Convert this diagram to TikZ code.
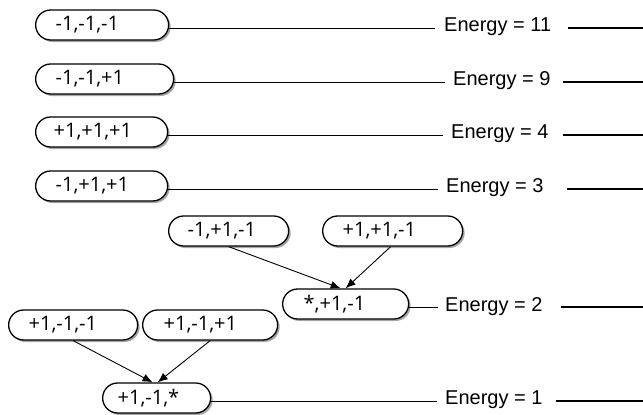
\documentclass[tikz,border=0pt]{standalone}
\usepackage{fontspec}
\setmainfont{Liberation Sans}
\newfontfamily\statefont{Open Sans}
\usetikzlibrary{shadows,arrows.meta,calc}

\tikzset{
  pill/.style={draw=black, line width=1.3pt, fill=white, rectangle,
    rounded corners=15pt, minimum height=30pt, anchor=west,
    align=left, inner ysep=0pt, font=\statefont\fontsize{20}{22}\selectfont,
    drop shadow={shadow xshift=2pt, shadow yshift=-2pt, fill=black, opacity=0.35}},
  energy/.style={anchor=base west, inner sep=0pt, font=\fontsize{20}{22}\selectfont},
  link/.style={draw=black, line width=0.8pt},
  level/.style={draw=black, line width=1.3pt},
  flow/.style={draw=black, line width=0.9pt, -{Latex[length=10pt,width=8pt]}},
}

\begin{document}
\begin{tikzpicture}[x=1pt, y=-1pt]
  \useasboundingbox (0,0) rectangle (643,415);

  % state nodes: left edge, vertical centre, width via text width + padding
  \node[pill, inner xsep=20pt, text width=93pt] (s1) at (35,25) {-1,-1,-1};
  \node[pill, inner xsep=20pt, text width=98pt] (s2) at (35,79) {-1,-1,+1};
  \node[pill, inner xsep=18pt, text width=96pt] (s3) at (35,132) {+1,+1,+1};
  \node[pill, inner xsep=20pt, text width=92pt] (s4) at (35,186) {-1,+1,+1};
  \node[pill, inner xsep=19pt, text width=82pt] (s5) at (168,231) {-1,+1,-1};
  \node[pill, inner xsep=20pt, text width=100pt] (s6) at (322,231) {+1,+1,-1};
  \node[pill, inner xsep=21pt, text width=84pt] (s7) at (282,304) {*,+1,-1};
  \node[pill, inner xsep=20pt, text width=89pt] (s8) at (8,325) {+1,-1,-1};
  \node[pill, inner xsep=21pt, text width=93pt] (s9) at (142,325) {+1,-1,+1};
  \node[pill, inner xsep=15pt, text width=78pt] (s10) at (102,398) {+1,-1,*};

  % energy labels
  \node[energy] (e11) at (444,31) {Energy = 11};
  \node[energy] (e9)  at (453,85) {Energy = 9};
  \node[energy] (e4)  at (451,138) {Energy = 4};
  \node[energy] (e3)  at (446,192) {Energy = 3};
  \node[energy] (e2)  at (445,311) {Energy = 2};
  \node[energy] (e1)  at (445,404) {Energy = 1};

  % ends of the connector segments on each level
  \coordinate (a11) at (435,28);  \coordinate (b11) at (568,28);  \coordinate (c11) at (643,28);
  \coordinate (a9)  at (445,82);  \coordinate (b9)  at (563,82);  \coordinate (c9)  at (643,82);
  \coordinate (a4)  at (443,135); \coordinate (b4)  at (563,135); \coordinate (c4)  at (643,135);
  \coordinate (a3)  at (438,189); \coordinate (b3)  at (567,189); \coordinate (c3)  at (643,189);
  \coordinate (a2)  at (438,307); \coordinate (b2)  at (561,307); \coordinate (c2)  at (643,307);
  \coordinate (a1)  at (437,401); \coordinate (b1)  at (556,401); \coordinate (c1)  at (643,401);

  % connectors from states to their energy level
  \draw[link] (s1.east |- a11) -- (a11);
  \draw[link] (s2.east |- a9) -- (a9);
  \draw[link] (s3.east |- a4) -- (a4);
  \draw[link] (s4.east |- a3) -- (a3);
  \draw[link] (s7.east |- a2) -- (a2);
  \draw[link] (s10.east |- a1) -- (a1);

  % level marks at the right
  \draw[level] (b11) -- (c11);
  \draw[level] (b9) -- (c9);
  \draw[level] (b4) -- (c4);
  \draw[level] (b3) -- (c3);
  \draw[level] (b2) -- (c2);
  \draw[level] (b1) -- (c1);

  % merges
  \draw[flow] (s5.south) -- ($(s7.north)+(-5,0)$);
  \draw[flow] ($(s6.south)+(-2,0)$) -- (s7.north);
  \draw[flow] (s8.south) -- ($(s10.north)+(-4,0)$);
  \draw[flow] (s9.south) -- ($(s10.north)+(1,0)$);
\end{tikzpicture}
\end{document}
